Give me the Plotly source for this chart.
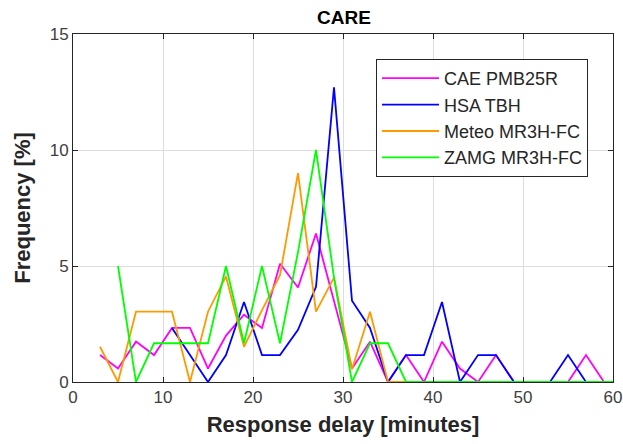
import plotly.graph_objects as go

# Bin centres (minutes)
x_cae = [3, 5, 7, 9, 11, 13, 15, 17, 19, 21, 23, 25, 27, 29, 31, 33, 35, 37, 39, 41, 43, 45, 47, 49, 51, 53, 55, 57, 59]
y_cae = [1.16, 0.58, 1.74, 1.16, 2.33, 2.33, 0.58, 2.0, 2.9, 2.33, 5.1, 4.07, 6.4, 3.5, 0.58, 1.74, 0, 1.16, 0, 1.74, 0.58, 0, 1.16, 0, 0, 0, 0, 1.16, 0]

x_hsa = [11, 13, 15, 17, 19, 21, 23, 25, 27, 29, 31, 33, 35, 37, 39, 41, 43, 45, 47, 49, 51, 53, 55, 57]
y_hsa = [2.33, 1.16, 0, 1.16, 3.45, 1.16, 1.16, 2.25, 4.1, 12.7, 3.5, 2.33, 0, 1.16, 1.16, 3.45, 0, 1.16, 1.16, 0, 0, 0, 1.16, 0]

x_met = [3, 5, 7, 9, 11, 13, 15, 17, 19, 21, 23, 25, 27, 29, 31, 33, 35, 37]
y_met = [1.52, 0, 3.03, 3.03, 3.03, 0, 3.03, 4.55, 1.52, 3.1, 4.6, 9.0, 3.03, 4.5, 0.55, 3.03, 0, 0]

x_zamg = [5, 7, 9, 11, 13, 15, 17, 19, 21, 23, 25, 27, 29, 31, 33, 35, 37, 39, 41, 43, 45, 47, 49, 51, 53, 55, 57, 59, 61]
y_zamg = [5, 0, 1.67, 1.67, 1.67, 1.67, 5, 1.67, 5, 1.67, 5.6, 10, 4.5, 0, 1.67, 1.67, 0, 0, 0, 0, 0, 0, 0, 0, 0, 0, 0, 0, 0]

names = ["CAE PMB25R", "HSA TBH", "Meteo MR3H-FC", "ZAMG MR3H-FC"]
colors = ["#FF00FF", "#0000FF", "#FF9900", "#00FF00"]
xs = [x_cae, x_hsa, x_met, x_zamg]
ys = [y_cae, y_hsa, y_met, y_zamg]

x_ticks = [0, 10, 20, 30, 40, 50, 60]
y_ticks = [0, 5, 10, 15]

FONT = "Liberation Sans, Arial, Helvetica, sans-serif"

fig = go.Figure()
for i, (xx, yy, nm, c) in enumerate(zip(xs, ys, names, colors)):
    fig.add_trace(go.Scatter(x=xx, y=yy, mode="lines", name=nm,
                             line=dict(color=c, width=1.8),
                             legendgroup=f"g{i}"))

axis_common = dict(
    showline=True, linecolor="#262626", linewidth=1, mirror="ticks",
    ticks="inside", ticklen=5, tickcolor="#262626",
    showgrid=True, gridcolor="#dddddd", gridwidth=1,
    zeroline=False, automargin=False,
    tickfont=dict(family=FONT, size=17, color="#404040"),
)

fig.update_layout(
    width=623, height=444,
    margin=dict(l=73, r=10, t=34, b=62),
    paper_bgcolor="white", plot_bgcolor="white",
    title=dict(text="<b>CARE</b>", x=(344/623), xanchor="center", y=1 - 17/444, yanchor="middle",
               font=dict(family=FONT, size=19, color="black")),
    xaxis=dict(range=[0, 60], tickvals=x_ticks,
               title=dict(text="<b>Response delay [minutes]</b>", standoff=10,
                          font=dict(family=FONT, size=22, color="#262626")),
               **axis_common),
    yaxis=dict(range=[0, 15], tickvals=y_ticks,
               title=dict(text="<b>Frequency [%]</b>", standoff=12,
                          font=dict(family=FONT, size=22, color="#262626")),
               **axis_common),
    legend=dict(x=(376-73)/540, y=(382-59)/348, xanchor="left", yanchor="top",
                bgcolor="white", bordercolor="#262626", borderwidth=1,
                font=dict(family=FONT, size=18, color="#262626"),
                tracegroupgap=0, itemwidth=57),
    showlegend=True,
)

fig.write_html("out.html")
